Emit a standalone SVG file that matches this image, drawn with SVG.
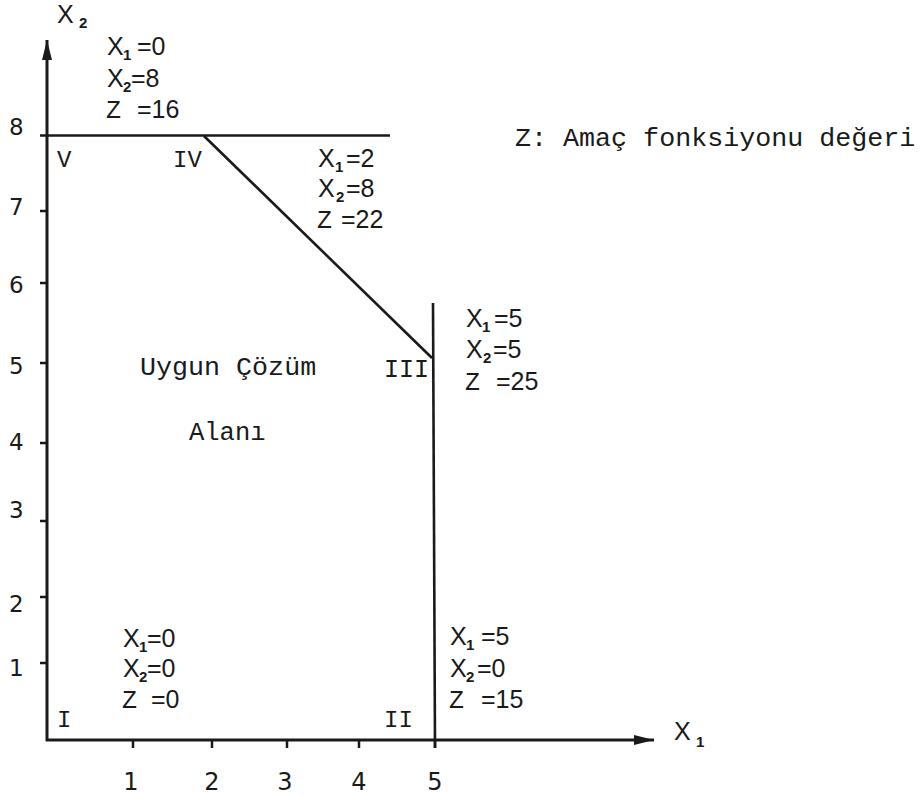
<svg xmlns="http://www.w3.org/2000/svg" width="921" height="796" viewBox="0 0 921 796">
<style>
.ax{stroke:#1a1a1a;stroke-width:3;fill:none;stroke-linecap:butt}
.ln{stroke:#1a1a1a;stroke-width:2.6;fill:none}
.tk{stroke:#1a1a1a;stroke-width:2.5}
.num{font-family:"DejaVu Sans",sans-serif;font-size:23px;fill:#1a1a1a}
.xn{font-family:"DejaVu Sans",sans-serif;font-size:24px;fill:#1a1a1a;text-anchor:middle}
.s{font-family:"Liberation Sans",Arial,sans-serif;font-size:25px;fill:#1a1a1a}
.sub{font-size:15px;font-weight:bold}
.zm{font-family:"Liberation Mono","Courier New",monospace}
.m{font-family:"Liberation Mono","Courier New",monospace;font-size:24px;fill:#1a1a1a}
.mb{font-family:"Liberation Mono","Courier New",monospace;font-size:26.7px;fill:#1a1a1a}
</style>
<defs>
<marker id="ah" viewBox="0 0 20 12" refX="20" refY="6" markerWidth="20" markerHeight="12" markerUnits="userSpaceOnUse" orient="auto">
<path d="M0,1 L20,6 L0,11 Z" fill="#1a1a1a"/>
</marker>
</defs>
<rect width="921" height="796" fill="#ffffff"/>

<g id="axes">
<line class="ax" x1="47" y1="741" x2="47" y2="40" marker-end="url(#ah)"/>
<line class="ax" x1="46" y1="740" x2="654" y2="740" marker-end="url(#ah)"/>
<g id="yticks">
<line class="tk" x1="40" y1="211" x2="47" y2="211"/>
<line class="tk" x1="40" y1="283" x2="47" y2="283"/>
<line class="tk" x1="40" y1="363" x2="47" y2="363"/>
<line class="tk" x1="40" y1="443" x2="47" y2="443"/>
<line class="tk" x1="40" y1="521" x2="47" y2="521"/>
<line class="tk" x1="40" y1="597" x2="47" y2="597"/>
<line class="tk" x1="40" y1="663" x2="47" y2="663"/>
</g>
<g id="xticks">
<line class="tk" x1="133" y1="740" x2="133" y2="748"/>
<line class="tk" x1="212" y1="740" x2="212" y2="748"/>
<line class="tk" x1="287" y1="740" x2="287" y2="748"/>
<line class="tk" x1="359" y1="740" x2="359" y2="748"/>
<line class="tk" x1="435" y1="740" x2="435" y2="748"/>
</g>
<g id="ylabels">
<text class="num" x="9" y="135">8</text>
<text class="num" x="9" y="215">7</text>
<text class="num" x="9" y="293">6</text>
<text class="num" x="9" y="374">5</text>
<text class="num" x="9" y="450">4</text>
<text class="num" x="9" y="518">3</text>
<text class="num" x="9" y="612">2</text>
<text class="num" x="9" y="676">1</text>
</g>
<g id="xlabels">
<text class="xn" x="131" y="790">1</text>
<text class="xn" x="212" y="790">2</text>
<text class="xn" x="285" y="790">3</text>
<text class="xn" x="359" y="790">4</text>
<text class="xn" x="435" y="790">5</text>
</g>
<text id="x2label" class="s" x="57" y="23">X<tspan class="sub" x="79" dy="5">2</tspan></text>
<text id="x1label" class="s" x="674" y="740">X<tspan class="sub" x="696" dy="7">1</tspan></text>
</g>

<g id="connectors">
<line class="ln" x1="40" y1="135.5" x2="390" y2="135.5"/>
<line class="ln" x1="204" y1="136" x2="432" y2="358"/>
<line class="ln" x1="433" y1="303" x2="435" y2="748"/>
</g>

<g id="vertex-V">
<text class="m" x="57" y="167">V</text>
<text class="s" x="107" y="55">X<tspan class="sub" x="123" dy="5">1</tspan><tspan x="137" dy="-5">=0</tspan></text>
<text class="s" x="107" y="87">X<tspan class="sub" x="123" dy="5">2</tspan><tspan x="131" dy="-5">=8</tspan></text>
<text class="s" x="106" y="118"><tspan class="zm">Z</tspan><tspan x="137">=16</tspan></text>
</g>

<g id="vertex-IV">
<text class="m" x="173" y="167">IV</text>
<text class="s" x="318" y="167">X<tspan class="sub" x="335" dy="5">1</tspan><tspan x="346" dy="-5">=2</tspan></text>
<text class="s" x="318" y="197">X<tspan class="sub" x="336" dy="5">2</tspan><tspan x="346" dy="-5">=8</tspan></text>
<text class="s" x="317" y="228"><tspan class="zm">Z</tspan><tspan x="341">=22</tspan></text>
</g>

<g id="vertex-III">
<text class="m" x="384" y="377" style="font-size:25px">III</text>
<text class="s" x="466" y="327">X<tspan class="sub" x="482" dy="5">1</tspan><tspan x="494" dy="-5">=5</tspan></text>
<text class="s" x="466" y="358">X<tspan class="sub" x="483" dy="5">2</tspan><tspan x="493" dy="-5">=5</tspan></text>
<text class="s" x="465" y="390"><tspan class="zm">Z</tspan><tspan x="496">=25</tspan></text>
</g>

<g id="vertex-I">
<text class="m" x="57" y="727">I</text>
<text class="s" x="123" y="647">X<tspan class="sub" x="139" dy="5">1</tspan><tspan x="147" dy="-5">=0</tspan></text>
<text class="s" x="123" y="677">X<tspan class="sub" x="139" dy="5">2</tspan><tspan x="147" dy="-5">=0</tspan></text>
<text class="s" x="122" y="708"><tspan class="zm">Z</tspan><tspan x="151">=0</tspan></text>
</g>

<g id="vertex-II">
<text class="m" x="384" y="727">II</text>
<text class="s" x="450" y="645">X<tspan class="sub" x="466" dy="5">1</tspan><tspan x="481" dy="-5">=5</tspan></text>
<text class="s" x="450" y="677">X<tspan class="sub" x="466" dy="5">2</tspan><tspan x="477" dy="-5">=0</tspan></text>
<text class="s" x="449" y="708"><tspan class="zm">Z</tspan><tspan x="481">=15</tspan></text>
</g>

<g id="region">
<text class="mb" x="140" y="375">Uygun Çözüm</text>
<text class="mb" x="189" y="440" style="font-size:25.5px">Alanı</text>
</g>

<g id="legend">
<text class="mb" x="515" y="146">Z: Amaç fonksiyonu değeri</text>
</g>
</svg>
